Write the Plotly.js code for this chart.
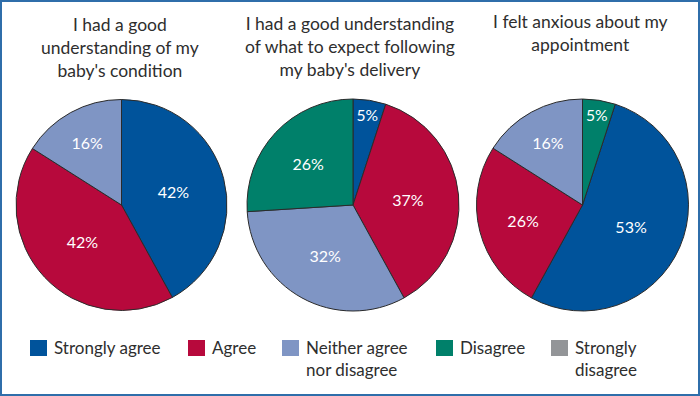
<!DOCTYPE html>
<html>
<head>
<meta charset="utf-8">
<script src="https://cdn.plot.ly/plotly-3.0.1.min.js"></script>
<style>html,body{margin:0;padding:0;background:#fff;}#chart{width:700px;height:396px;}</style>
</head>
<body>
<div id="chart"></div>
<script>
// ---- Data ----
const categories = ["Strongly agree", "Agree", "Neither agree<br>nor disagree", "Disagree", "Strongly<br>disagree"];
const colors = ["#00539b", "#b7093c", "#7f95c4", "#00806a", "#939598"];
const titles = [
  "I had a good<br>understanding of my<br>baby's condition",
  "I had a good understanding<br>of what to expect following<br>my baby's delivery",
  "I felt anxious about my<br>appointment"
];
const pie1Values = [42, 42, 16, 0, 0];
const pie2Values = [5, 37, 32, 26, 0];
const pie3Values = [53, 26, 16, 5, 0];

// ---- Layout helpers (pixel -> paper) ----
const W = 700, H = 396;
const px = x => x / W;
const py = y => 1 - y / H;

const series = [pie1Values, pie2Values, pie3Values];
const domains = [
  {x: [px(16), px(227)], y: [py(310.5), py(99.5)]},
  {x: [px(247), px(459)], y: [py(311), py(99)]},
  {x: [px(476.5), px(688.5)], y: [py(311), py(99)]}
];
const rotations = [0, 0, 18];

const FONT = "Lato, 'Open Sans', sans-serif";

const traces = series.map((vals, i) => {
  const labels = [], values = [], cols = [];
  vals.forEach((v, k) => { if (v > 0) { labels.push(categories[k]); values.push(v); cols.push(colors[k]); } });
  return {
    type: "pie",
    labels: labels,
    values: values,
    sort: false,
    direction: "clockwise",
    rotation: rotations[i],
    domain: domains[i],
    marker: {colors: cols, line: {color: "#2b2b2b", width: 1}},
    texttemplate: "%{value}%",
    textposition: "inside",
    insidetextorientation: "horizontal",
    textfont: {family: FONT, size: 16, color: "#ffffff"},
    hoverinfo: "label+percent",
    showlegend: false
  };
});

const titleX = [119.5, 350.5, 580];
const titleTop = [12, 11, 9];
const annotations = titles.map((t, i) => ({
  text: t, x: px(titleX[i]), y: py(titleTop[i]), xref: "paper", yref: "paper",
  xanchor: "center", yanchor: "top", showarrow: false, align: "center",
  font: {family: FONT, size: 17.5, color: "#2e2e2e"}
}));

// Legend built from categories/colors
const legSquareX = [30, 188, 282, 436, 551];
const shapes = [{
  type: "rect", xref: "paper", yref: "paper",
  x0: px(1), x1: px(699), y0: py(395), y1: py(1),
  line: {color: "#2f6eaa", width: 2}, fillcolor: "rgba(0,0,0,0)"
}];
categories.forEach((c, k) => {
  shapes.push({
    type: "rect", xref: "paper", yref: "paper",
    x0: px(legSquareX[k]), x1: px(legSquareX[k] + 17), y0: py(356), y1: py(340),
    line: {width: 0}, fillcolor: colors[k]
  });
  annotations.push({
    text: c, x: px(legSquareX[k] + 22), y: py(335), xref: "paper", yref: "paper",
    xanchor: "left", yanchor: "top", showarrow: false, align: "left",
    font: {family: FONT, size: 17, color: "#2e2e2e"}
  });
});

const layout = {
  width: W, height: H,
  margin: {l: 0, r: 0, t: 0, b: 0},
  paper_bgcolor: "#ffffff",
  showlegend: false,
  annotations: annotations,
  shapes: shapes
};

Plotly.newPlot("chart", traces, layout, {displayModeBar: false, staticPlot: true});
</script>
</body>
</html>
